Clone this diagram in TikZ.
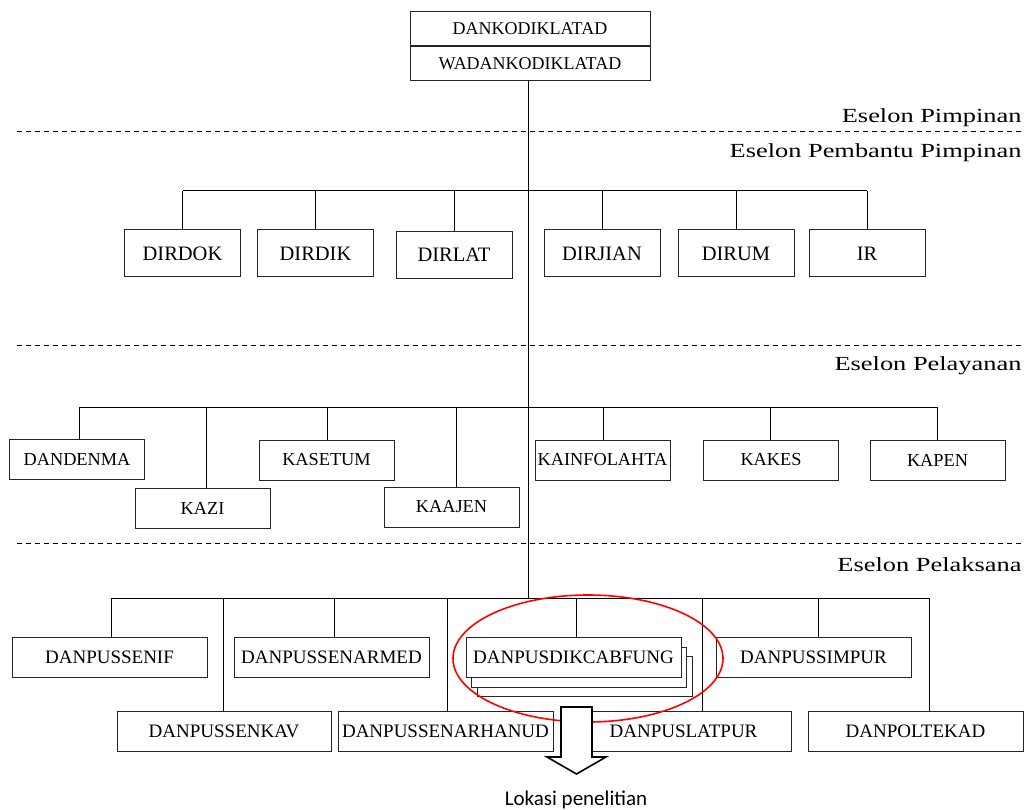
\documentclass[tikz,border=0pt]{standalone}
\usepackage{fontspec}
\setmainfont{Liberation Serif}
\newfontfamily\eselonfont[FakeStretch=1.32]{Liberation Serif}
\newfontfamily\lokasifont{Carlito}
\usetikzlibrary{positioning,shadows}

\begin{document}
\begin{tikzpicture}[x=1pt, y=-1pt, line width=1pt,
  box/.style={draw=black!85, fill=white, inner sep=0pt, minimum height=40pt, font=\fontsize{19}{22}\selectfont},
  topbox/.style={box, minimum width=240pt, minimum height=34pt, font=\fontsize{18}{21}\selectfont},
  dirbox/.style={box, minimum width=116pt, minimum height=47pt, font=\fontsize{20.5}{24}\selectfont},
  kabox/.style={box, minimum width=135pt, font=\fontsize{18.3}{21}\selectfont},
  level/.style={dash pattern=on 5pt off 4pt, line width=0.9pt},
  eselon/.style={anchor=base east, inner sep=0pt, font=\eselonfont\fontsize{20}{23}\selectfont}]

\useasboundingbox (0,0) rectangle (1026,810);

% pimpinan
\node[topbox] (dank) at (530,29) {DANKODIKLATAD};
\node[topbox, below=0pt of dank] (wadank) {WADANKODIKLATAD};

\coordinate (h1) at (528,191);
\coordinate (h2) at (528,407.2);
\coordinate (h3) at (528,598);
\draw ([xshift=-2pt]wadank.south) -- (h3);

% eselon
\foreach \y in {131,345,543} {
\draw[level] (17,\y) -- (1022,\y);
}
\foreach \n/\y/\lab in {es1/123/Eselon Pimpinan, es2/158/Eselon Pembantu Pimpinan, es3/371/Eselon Pelayanan, es4/571/Eselon Pelaksana} {
\node[eselon] (\n) at (1022,\y) {\lab};
}

% pembantu pimpinan
\foreach \n/\x/\y/\lab in {dirdok/182.5/253.5/DIRDOK, dirdik/315.5/253.5/DIRDIK, dirlat/454/255/DIRLAT, dirjian/602/253.5/DIRJIAN, dirum/736/253.5/DIRUM, ir/867/253.5/IR} {
\node[dirbox] (\n) at (\x,\y) {\lab};
\draw (\n.north) -- (\n.north |- h1);
}
\draw (dirdok.north |- h1) -- (ir.north |- h1);

% pelayanan
\foreach \n/\x/\y/\dx/\lab in {dandenma/77/459.5/2/DANDENMA, kazi/202.5/508/3.5/KAZI, kasetum/326.5/460/0.5/KASETUM, kaajen/451.5/507/4.5/KAAJEN, kainfolahta/602.5/460/0.5/KAINFOLAHTA, kakes/771/460/-1/KAKES, kapen/937.5/460/0/KAPEN} {
\node[kabox] (\n) at (\x,\y) {\lab};
\draw ([xshift=\dx pt]\n.north) -- ([xshift=\dx pt]\n.north |- h2);
}
\draw ([xshift=2pt]dandenma.north |- h2) -- (kapen.north |- h2);

% pelaksana
\foreach \n/\x/\y/\dx/\w/\lab in {danpussenif/109.5/657/1.5/195/DANPUSSENIF, danpussenkav/224/731/-1/214/DANPUSSENKAV, danpussenarmed/331.5/657/2.5/195/DANPUSSENARMED, danpussenarhanud/445.5/731.5/1.5/215/DANPUSSENARHANUD, danpussimpur/813.5/657.5/4.5/195/DANPUSSIMPUR, danpuslatpur/683.5/731/18.5/215/DANPUSLATPUR, danpoltekad/915.5/731/13.5/215/DANPOLTEKAD} {
\node[box, minimum width=\w pt] (\n) at (\x,\y) {\lab};
\draw ([xshift=\dx pt]\n.north) -- ([xshift=\dx pt]\n.north |- h3);
}
\node[box, minimum width=215pt,
  copy shadow={shadow xshift=11pt, shadow yshift=-19pt, draw=black!85},
  copy shadow={shadow xshift=5.5pt, shadow yshift=-9.5pt, draw=black!85}]
  (danpusdikcabfung) at (573.5,657.5) {DANPUSDIKCABFUNG};
\draw ([xshift=2.5pt]danpusdikcabfung.north) -- ([xshift=2.5pt]danpusdikcabfung.north |- h3);
\draw ([xshift=1.5pt]danpussenif.north |- h3) -- ([xshift=13.5pt]danpoltekad.north |- h3);

% lokasi penelitian
\draw[red, line width=1.6pt] (588,658.5) ellipse [x radius=135pt, y radius=63.5pt];
\draw[fill=white, line width=1.6pt] (561,707) -- (592,707) -- (592,757) -- (606,757) -- (576.5,774) -- (547,757) -- (561,757) -- cycle;
\node[font=\lokasifont\fontsize{21}{24}\selectfont] (lokasi) at (576,800) {Lokasi penelitian};

\end{tikzpicture}
\end{document}
